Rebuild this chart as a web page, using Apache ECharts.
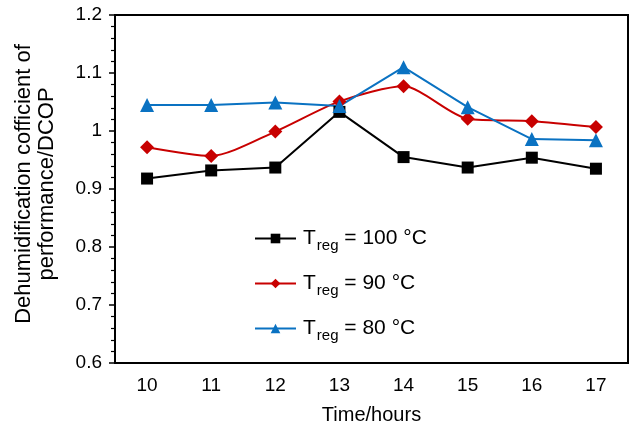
<!DOCTYPE html>
<html>
<head>
<meta charset="utf-8">
<script src="https://cdn.jsdelivr.net/npm/echarts@6/dist/echarts.min.js"></script>
<style>
	html, body { margin: 0; padding: 0; background: #fff; }
	#chart { width: 634px; height: 430px; }
</style>
</head>
<body>
<div id="chart"></div>
<script>
// 时间 (hours)
var hours = ['10', '11', '12', '13', '14', '15', '16', '17'];
// DCOP values per regeneration temperature
var dcop100 = [0.918, 0.932, 0.937, 1.033, 0.955, 0.937, 0.954, 0.935];
var dcop90 = [0.972, 0.957, 0.999, 1.051, 1.077, 1.021, 1.017, 1.007];
var dcop80 = [1.045, 1.045, 1.049, 1.043, 1.110, 1.041, 0.986, 0.984];
var seriesNames = ['100', '90', '80'];

var font = 'Liberation Sans, Arial, Helvetica, sans-serif';
var myChart = echarts.init(document.getElementById('chart'));

function mkSeries(temp, data, color, symbol, size, smooth) {
	return {
		name: temp,
		type: 'line',
		data: data,
		smooth: smooth,
		symbol: symbol,
		symbolSize: size,
		lineStyle: { color: color, width: 2 },
		itemStyle: { color: color },
		z: 3
	};
}

var option = {
	backgroundColor: '#ffffff',
	animation: false,
	grid: {
		left: 115, top: 15, right: 6, bottom: 67,
		show: true, borderColor: '#000', borderWidth: 2
	},
	legend: {
		orient: 'vertical',
		left: 249,
		top: 219,
		itemWidth: 41,
		itemHeight: 12,
		itemGap: 16,
		data: seriesNames,
		formatter: function(name) {
			return '{t|T}{b|reg}{a| = ' + name + ' °C}';
		},
		textStyle: {
			fontFamily: font,
			rich: {
				t: { fontSize: 21, color: '#000', fontFamily: font, lineHeight: 24, padding: [0, 0, 0, 2] },
				a: { fontSize: 21, color: '#000', fontFamily: font, lineHeight: 24 },
				b: { fontSize: 15, color: '#000', fontFamily: font, padding: [14, 0, 0, 1], lineHeight: 12 }
			}
		}
	},
	xAxis: {
		type: 'category',
		data: hours,
		boundaryGap: true,
		name: 'Time/hours',
		nameLocation: 'middle',
		nameGap: 42,
		nameTextStyle: { fontFamily: font, fontSize: 20, color: '#000' },
		axisLine: { lineStyle: { color: '#000', width: 2 } },
		axisTick: { alignWithLabel: true, length: 6, lineStyle: { color: '#000', width: 1.5 } },
		axisLabel: { fontFamily: font, fontSize: 19, color: '#000', margin: 13 },
		splitLine: { show: false }
	},
	yAxis: {
		type: 'value',
		min: 0.6,
		max: 1.2,
		interval: 0.1,
		name: 'Dehumidification cofficient of\nperformance/DCOP',
		nameLocation: 'middle',
		nameGap: 57,
		nameTextStyle: { fontFamily: font, fontSize: 22, color: '#000', lineHeight: 23, padding: [0, 0, 0, 10] },
		axisLine: { show: true, lineStyle: { color: '#000', width: 2 } },
		axisTick: { show: true, length: 6, lineStyle: { color: '#000', width: 1.5 } },
		minorTick: { show: true, splitNumber: 5, length: 4, lineStyle: { color: '#000', width: 1.2 } },
		axisLabel: { fontFamily: font, fontSize: 19, color: '#000', margin: 13 },
		splitLine: { show: false }
	},
	series: [
		mkSeries('100', dcop100, '#000000', 'rect', 12, false),
		mkSeries('90', dcop90, '#c80000', 'diamond', 14, 0.25),
		mkSeries('80', dcop80, '#0a72c2', 'triangle', 14, false)
	]
};
myChart.setOption(option);
</script>
</body>
</html>
